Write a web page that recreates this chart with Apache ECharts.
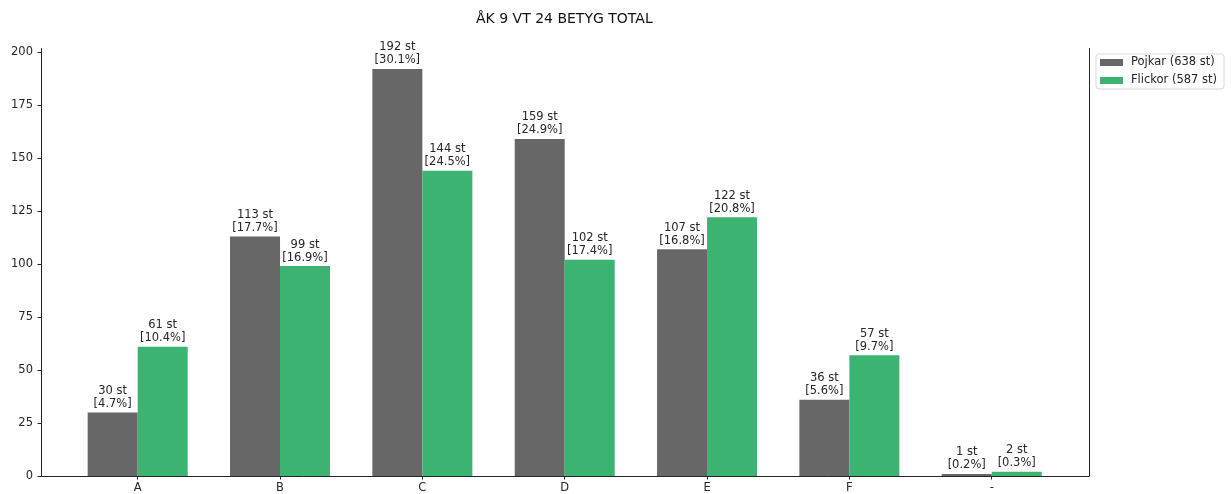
<!DOCTYPE html>
<html>
<head>
<meta charset="utf-8">
<script src="https://cdn.jsdelivr.net/npm/echarts@6/dist/echarts.min.js"></script>
<style>html,body{margin:0;padding:0;background:#fff;}#c{width:1231px;height:494px;}</style>
</head>
<body>
<div id="c"></div>
<script>
const categories = ['A', 'B', 'C', 'D', 'E', 'F', '-'];
const pojkar = [30, 113, 192, 159, 107, 36, 1];
const flickor = [61, 99, 144, 102, 122, 57, 2];
const yTicks = [0, 25, 50, 75, 100, 125, 150, 175, 200];
const titleText = 'ÅK 9 VT 24 BETYG TOTAL';

const sum = a => a.reduce((s, v) => s + v, 0);
const totP = sum(pojkar), totF = sum(flickor);
const nameP = 'Pojkar (' + totP + ' st)';
const nameF = 'Flickor (' + totF + ' st)';
const FONT = 'DejaVu Sans';
const FS = 11.5;
const lineCol = '#262626';

function lbl(total) {
  return {
    show: true, position: 'top', distance: 2,
    fontFamily: FONT, fontSize: FS, lineHeight: 13, color: '#262626',
    formatter: p => p.value + ' st\n[' + (p.value / total * 100).toFixed(1) + '%]'
  };
}

const chart = echarts.init(document.getElementById('c'), null, {renderer: 'canvas'});
chart.setOption({
  animation: false,
  backgroundColor: '#fff',
  title: {
    text: titleText, left: 476, top: 12, padding: 0,
    textStyle: {fontFamily: FONT, fontSize: 14, fontWeight: 'normal', color: '#111'}
  },
  legend: {
    orient: 'vertical', left: 1096, top: 54,
    padding: [2, 7, 2, 4], itemGap: 5,
    itemWidth: 23, itemHeight: 7, icon: 'rect',
    backgroundColor: '#fff', borderColor: '#d8d8d8', borderWidth: 1, borderRadius: 3,
    textStyle: {fontFamily: FONT, fontSize: FS, lineHeight: 13, color: '#262626', padding: [0, 0, 0, 3]},
    data: [nameP, nameF]
  },
  grid: [
    {left: 41, right: 142, top: 48.5, bottom: 18},
    {left: 66.5, right: 168.1, top: 52, bottom: 18}
  ],
  xAxis: [
    {gridIndex: 0, type: 'value', min: 0, max: 1, position: 'bottom',
     axisLine: {show: true, lineStyle: {color: lineCol, width: 1}},
     axisTick: {show: false}, axisLabel: {show: false}, splitLine: {show: false}},
    {gridIndex: 1, type: 'category', data: categories, position: 'bottom',
     axisLine: {show: false},
     axisTick: {show: true, alignWithLabel: true, length: 3.5, lineStyle: {color: lineCol}},
     axisLabel: {fontFamily: FONT, fontSize: FS, color: '#262626', margin: 6},
     splitLine: {show: false}}
  ],
  yAxis: [
    {gridIndex: 0, type: 'value', min: 0, max: 1, position: 'left',
     axisLine: {show: true, lineStyle: {color: lineCol, width: 1}},
     axisTick: {show: false}, axisLabel: {show: false}, splitLine: {show: false}},
    {gridIndex: 0, type: 'value', min: 0, max: 1, position: 'right',
     axisLine: {show: true, lineStyle: {color: lineCol, width: 1}},
     axisTick: {show: false}, axisLabel: {show: false}, splitLine: {show: false}},
    {gridIndex: 1, type: 'value', min: yTicks[0], max: yTicks[yTicks.length - 1],
     interval: yTicks[1] - yTicks[0], position: 'left', offset: 25.5,
     axisLine: {show: false},
     axisTick: {show: true, length: 3.5, lineStyle: {color: lineCol}},
     axisLabel: {fontFamily: FONT, fontSize: FS, color: '#262626', margin: 8},
     splitLine: {show: false}}
  ],
  series: [
    {name: nameP, type: 'bar', xAxisIndex: 1, yAxisIndex: 2, data: pojkar,
     barWidth: 50, barGap: '0%', itemStyle: {color: '#676767'}, label: lbl(totP)},
    {name: nameF, type: 'bar', xAxisIndex: 1, yAxisIndex: 2, data: flickor,
     barWidth: 50, barGap: '0%', itemStyle: {color: '#3cb371'}, label: lbl(totF)}
  ]
});
</script>
</body>
</html>
